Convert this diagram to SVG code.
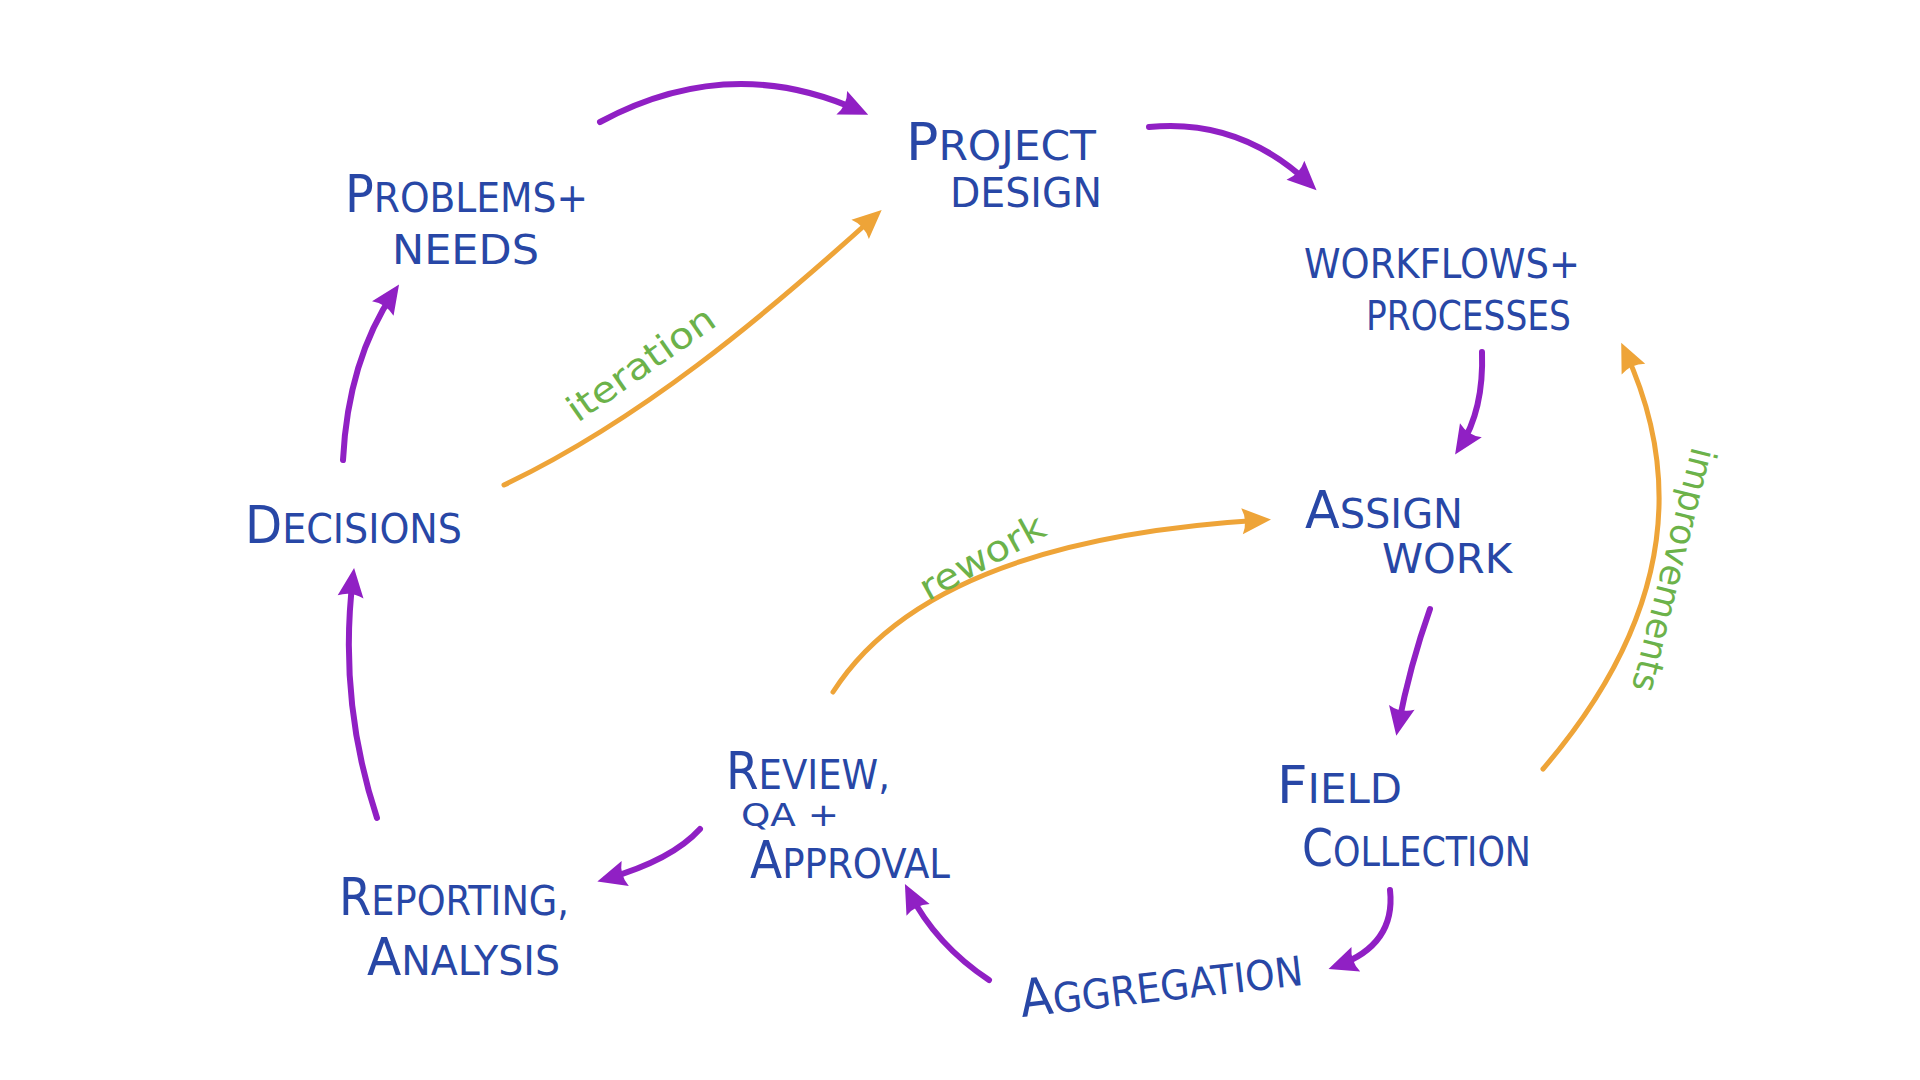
<svg xmlns="http://www.w3.org/2000/svg" width="1920" height="1080" viewBox="0 0 1920 1080">
<style>
.lbl{font-family:"DejaVu Sans Condensed","DejaVu Sans",sans-serif;fill:#2847a6;font-size:41px;}
.big{font-size:52px;}
.note{font-family:"DejaVu Sans Condensed","DejaVu Sans",sans-serif;fill:#6cb24a;font-size:36px;}
.p{fill:none;stroke:#9020c4;stroke-width:6;stroke-linecap:round;marker-end:url(#ap);}
.o{fill:none;stroke:#eea438;stroke-width:5;stroke-linecap:round;marker-end:url(#ao);}
</style>
<defs>
<marker id="ap" viewBox="0 0 32 30" markerWidth="32" markerHeight="30" refX="22" refY="15" orient="auto" markerUnits="userSpaceOnUse"><path d="M2,2 L31,15 L2,28 Q8,15 2,2 Z" fill="#9020c4"/></marker>
<marker id="ao" viewBox="0 0 32 30" markerWidth="32" markerHeight="30" refX="22" refY="15" orient="auto" markerUnits="userSpaceOnUse"><path d="M2,2 L31,15 L2,28 Q8,15 2,2 Z" fill="#eea438"/></marker>
</defs>
<rect width="1920" height="1080" fill="#ffffff"/>
<g id="connectors">
<path class="p" d="M600,122 Q730,52 860,111"/>
<path class="p" d="M1149,127 Q1240,118 1310,184"/>
<path class="p" d="M1482,352 Q1484,410 1460,447"/>
<path class="p" d="M1430,609 Q1410,665 1398,727"/>
<path class="p" d="M1390,890 Q1396,945 1337,966"/>
<path class="p" d="M989,980 Q936,945 909,892"/>
<path class="p" d="M700,829 Q672,860 606,879"/>
<path class="p" d="M377,818 Q338,700 353,577"/>
<path class="p" d="M343,460 Q348,360 394,292"/>
<path class="o" d="M504,485 C640,420 760,320 875,216"/>
<path class="o" d="M833,692 Q930,540 1262,520"/>
<path class="o" d="M1543,769 Q1722,560 1625,351"/>
<text class="note" transform="translate(648,374) rotate(-35)" text-anchor="middle" textLength="172" lengthAdjust="spacingAndGlyphs">iteration</text>
<text class="note" transform="translate(988,568) rotate(-29)" text-anchor="middle" textLength="138" lengthAdjust="spacingAndGlyphs">rework</text>
<text class="note" transform="translate(1662,567) rotate(104)" text-anchor="middle" textLength="250" lengthAdjust="spacingAndGlyphs">improvements</text>
</g>
<g id="problems-needs">
<text class="lbl" x="345" y="212" textLength="243" lengthAdjust="spacingAndGlyphs"><tspan class="big">P</tspan>ROBLEMS+</text>
<text class="lbl" x="392" y="264" textLength="147" lengthAdjust="spacingAndGlyphs">NEEDS</text>
</g>
<g id="project-design">
<text class="lbl" x="906" y="160" textLength="190" lengthAdjust="spacingAndGlyphs"><tspan class="big">P</tspan>ROJECT</text>
<text class="lbl" x="950" y="207" textLength="152" lengthAdjust="spacingAndGlyphs">DESIGN</text>
</g>
<g id="workflows-processes">
<text class="lbl" x="1304" y="278" textLength="276" lengthAdjust="spacingAndGlyphs">WORKFLOWS+</text>
<text class="lbl" x="1366" y="330" textLength="205" lengthAdjust="spacingAndGlyphs">PROCESSES</text>
</g>
<g id="assign-work">
<text class="lbl" x="1305" y="528" textLength="158" lengthAdjust="spacingAndGlyphs"><tspan class="big">A</tspan>SSIGN</text>
<text class="lbl" x="1382" y="573" textLength="130" lengthAdjust="spacingAndGlyphs">WORK</text>
</g>
<g id="decisions">
<text class="lbl" x="245" y="543" textLength="217" lengthAdjust="spacingAndGlyphs"><tspan class="big">D</tspan>ECISIONS</text>
</g>
<g id="field-collection">
<text class="lbl" x="1277" y="803" textLength="125" lengthAdjust="spacingAndGlyphs"><tspan class="big">F</tspan>IELD</text>
<text class="lbl" x="1302" y="866" textLength="229" lengthAdjust="spacingAndGlyphs"><tspan class="big">C</tspan>OLLECTION</text>
</g>
<g id="review-qa-approval">
<text class="lbl" x="726" y="789" textLength="164" lengthAdjust="spacingAndGlyphs"><tspan class="big">R</tspan>EVIEW,</text>
<text class="lbl" x="741" y="826" textLength="98" lengthAdjust="spacingAndGlyphs" style="font-size:32px">QA +</text>
<text class="lbl" x="750" y="878" textLength="200" lengthAdjust="spacingAndGlyphs"><tspan class="big">A</tspan>PPROVAL</text>
</g>
<g id="reporting-analysis">
<text class="lbl" x="339" y="915" textLength="230" lengthAdjust="spacingAndGlyphs"><tspan class="big">R</tspan>EPORTING,</text>
<text class="lbl" x="367" y="975" textLength="193" lengthAdjust="spacingAndGlyphs"><tspan class="big">A</tspan>NALYSIS</text>
</g>
<g id="aggregation">
<text class="lbl" transform="translate(1022,1017) rotate(-6.5)" textLength="284" lengthAdjust="spacingAndGlyphs"><tspan class="big">A</tspan>GGREGATION</text>
</g>
</svg>
